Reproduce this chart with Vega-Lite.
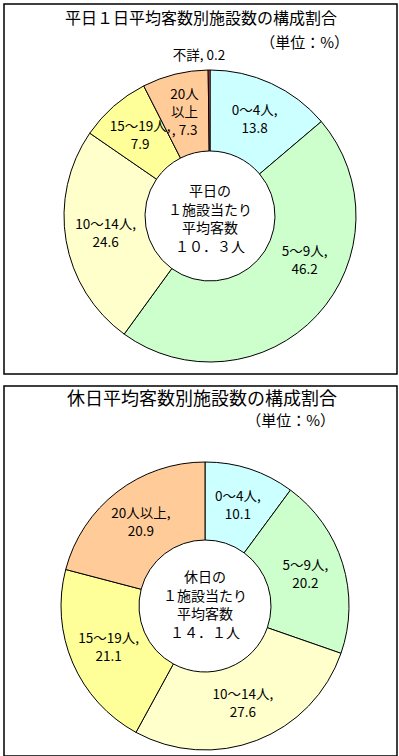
{
  "$schema": "https://vega.github.io/schema/vega-lite/v6.json",
  "padding": {"left": 3, "top": 3, "right": 3, "bottom": 3},
  "spacing": 10,
  "config": {
    "view": {"stroke": null},
    "text": {"font": "Noto Sans CJK JP", "color": "black"}
  },
  "vconcat": [
    {
      "width": 393,
      "height": 370,
      "layer": [
        {
          "data": {"values": [{"frame": 1}]},
          "mark": {"type": "rect", "fill": null, "stroke": "black", "strokeWidth": 1.5},
          "encoding": {"x": {"value": 0}, "x2": {"value": "width"}, "y": {"value": 0}, "y2": {"value": "height"}}
        },
        {
          "data": {"values": [
            {"idx": 1, "cat": "0～4人", "pct": 13.8, "label": ["0～4人,", "13.8"]},
            {"idx": 2, "cat": "5～9人", "pct": 46.2, "label": ["5～9人,", "46.2"]},
            {"idx": 3, "cat": "10～14人", "pct": 24.6, "label": ["10～14人,", "24.6"]},
            {"idx": 4, "cat": "15～19人", "pct": 7.9, "label": ["15～19人,", "7.9"]},
            {"idx": 5, "cat": "20人以上", "pct": 7.3, "label": ["20人", "以上", ", 7.3"]},
            {"idx": 6, "cat": "不詳", "pct": 0.2, "label": "不詳, 0.2"}
          ]},
          "encoding": {
            "theta": {"field": "pct", "type": "quantitative", "stack": true},
            "order": {"field": "idx", "type": "quantitative"}
          },
          "layer": [
            {
              "mark": {"type": "arc", "x": 206, "y": 212, "outerRadius": 146, "innerRadius": 65, "stroke": "black", "strokeWidth": 1},
              "encoding": {
                "color": {"field": "cat", "type": "nominal", "legend": null,
                  "scale": {"domain": ["0～4人", "5～9人", "10～14人", "15～19人", "20人以上", "不詳"],
                            "range": ["#CCFFFF", "#CCFFCC", "#FFFFCC", "#FFFF99", "#FFCC99", "#FF6666"]}}
              }
            },
            {
              "mark": {"type": "text", "x": 206, "y": 212, "radius": 106, "dy": -9, "fontSize": 13.5, "lineHeight": 18, "align": "center", "baseline": "middle"},
              "encoding": {"text": {"condition": {"test": "datum.cat === '0～4人' || datum.cat === '10～14人' || datum.cat === '15～19人'", "field": "label", "type": "nominal"}, "value": ""}}
            },
            {
              "mark": {"type": "text", "x": 206, "y": 212, "radius": 106, "dx": 17, "dy": -36, "fontSize": 13.5, "lineHeight": 18, "align": "center", "baseline": "middle"},
              "encoding": {"text": {"condition": {"test": "datum.cat === '5～9人'", "field": "label", "type": "nominal"}, "value": ""}}
            },
            {
              "mark": {"type": "text", "x": 206, "y": 212, "radius": 106, "dy": -18, "fontSize": 13.5, "lineHeight": 18, "align": "center", "baseline": "middle"},
              "encoding": {"text": {"condition": {"test": "datum.cat === '20人以上'", "field": "label", "type": "nominal"}, "value": ""}}
            },
            {
              "mark": {"type": "text", "x": 196, "y": 212, "radius": 160, "fontSize": 13.5, "align": "center", "baseline": "middle"},
              "encoding": {"text": {"condition": {"test": "datum.cat === '不詳'", "field": "label", "type": "nominal"}, "value": ""}}
            }
          ]
        },
        {
          "data": {"values": [{"t": ["平日の", "１施設当たり", "平均客数", "１０．３人"]}]},
          "mark": {"type": "text", "x": 206, "y": 216, "dy": -28, "fontSize": 14, "lineHeight": 18.5, "align": "center", "baseline": "middle"},
          "encoding": {"text": {"field": "t", "type": "nominal"}}
        },
        {
          "data": {"values": [{"t": "平日１日平均客数別施設数の構成割合"}]},
          "mark": {"type": "text", "x": 197, "y": 15, "fontSize": 16, "align": "center", "baseline": "middle"},
          "encoding": {"text": {"field": "t", "type": "nominal"}}
        },
        {
          "data": {"values": [{"t": "（単位：%）"}]},
          "mark": {"type": "text", "x": 345, "y": 39, "fontSize": 15, "align": "right", "baseline": "middle"},
          "encoding": {"text": {"field": "t", "type": "nominal"}}
        }
      ]
    },
    {
      "width": 393,
      "height": 370,
      "layer": [
        {
          "data": {"values": [{"frame": 1}]},
          "mark": {"type": "rect", "fill": null, "stroke": "black", "strokeWidth": 1.5},
          "encoding": {"x": {"value": 0}, "x2": {"value": "width"}, "y": {"value": 0}, "y2": {"value": "height"}}
        },
        {
          "data": {"values": [
            {"idx": 1, "cat": "0～4人", "pct": 10.1, "label": ["0～4人,", "10.1"]},
            {"idx": 2, "cat": "5～9人", "pct": 20.2, "label": ["5～9人,", "20.2"]},
            {"idx": 3, "cat": "10～14人", "pct": 27.6, "label": ["10～14人,", "27.6"]},
            {"idx": 4, "cat": "15～19人", "pct": 21.1, "label": ["15～19人,", "21.1"]},
            {"idx": 5, "cat": "20人以上", "pct": 20.9, "label": ["20人以上,", "20.9"]}
          ]},
          "encoding": {
            "theta": {"field": "pct", "type": "quantitative", "stack": true},
            "order": {"field": "idx", "type": "quantitative"}
          },
          "layer": [
            {
              "mark": {"type": "arc", "x": 201, "y": 220, "outerRadius": 144, "innerRadius": 66, "stroke": "black", "strokeWidth": 1},
              "encoding": {
                "color": {"field": "cat", "type": "nominal", "legend": null,
                  "scale": {"domain": ["0～4人", "5～9人", "10～14人", "15～19人", "20人以上"],
                            "range": ["#CCFFFF", "#CCFFCC", "#FFFFCC", "#FFFF99", "#FFCC99"]}}
              }
            },
            {
              "mark": {"type": "text", "x": 201, "y": 220, "radius": 105, "dy": -9, "fontSize": 13.5, "lineHeight": 18, "align": "center", "baseline": "middle"},
              "encoding": {"text": {"field": "label", "type": "nominal"}}
            }
          ]
        },
        {
          "data": {"values": [{"t": ["休日の", "１施設当たり", "平均客数", "１４．１人"]}]},
          "mark": {"type": "text", "x": 201, "y": 220, "dy": -28, "fontSize": 14, "lineHeight": 18.5, "align": "center", "baseline": "middle"},
          "encoding": {"text": {"field": "t", "type": "nominal"}}
        },
        {
          "data": {"values": [{"t": "休日平均客数別施設数の構成割合"}]},
          "mark": {"type": "text", "x": 198, "y": 14, "fontSize": 18, "align": "center", "baseline": "middle"},
          "encoding": {"text": {"field": "t", "type": "nominal"}}
        },
        {
          "data": {"values": [{"t": "（単位：%）"}]},
          "mark": {"type": "text", "x": 331, "y": 35, "fontSize": 15, "align": "right", "baseline": "middle"},
          "encoding": {"text": {"field": "t", "type": "nominal"}}
        }
      ]
    }
  ]
}
